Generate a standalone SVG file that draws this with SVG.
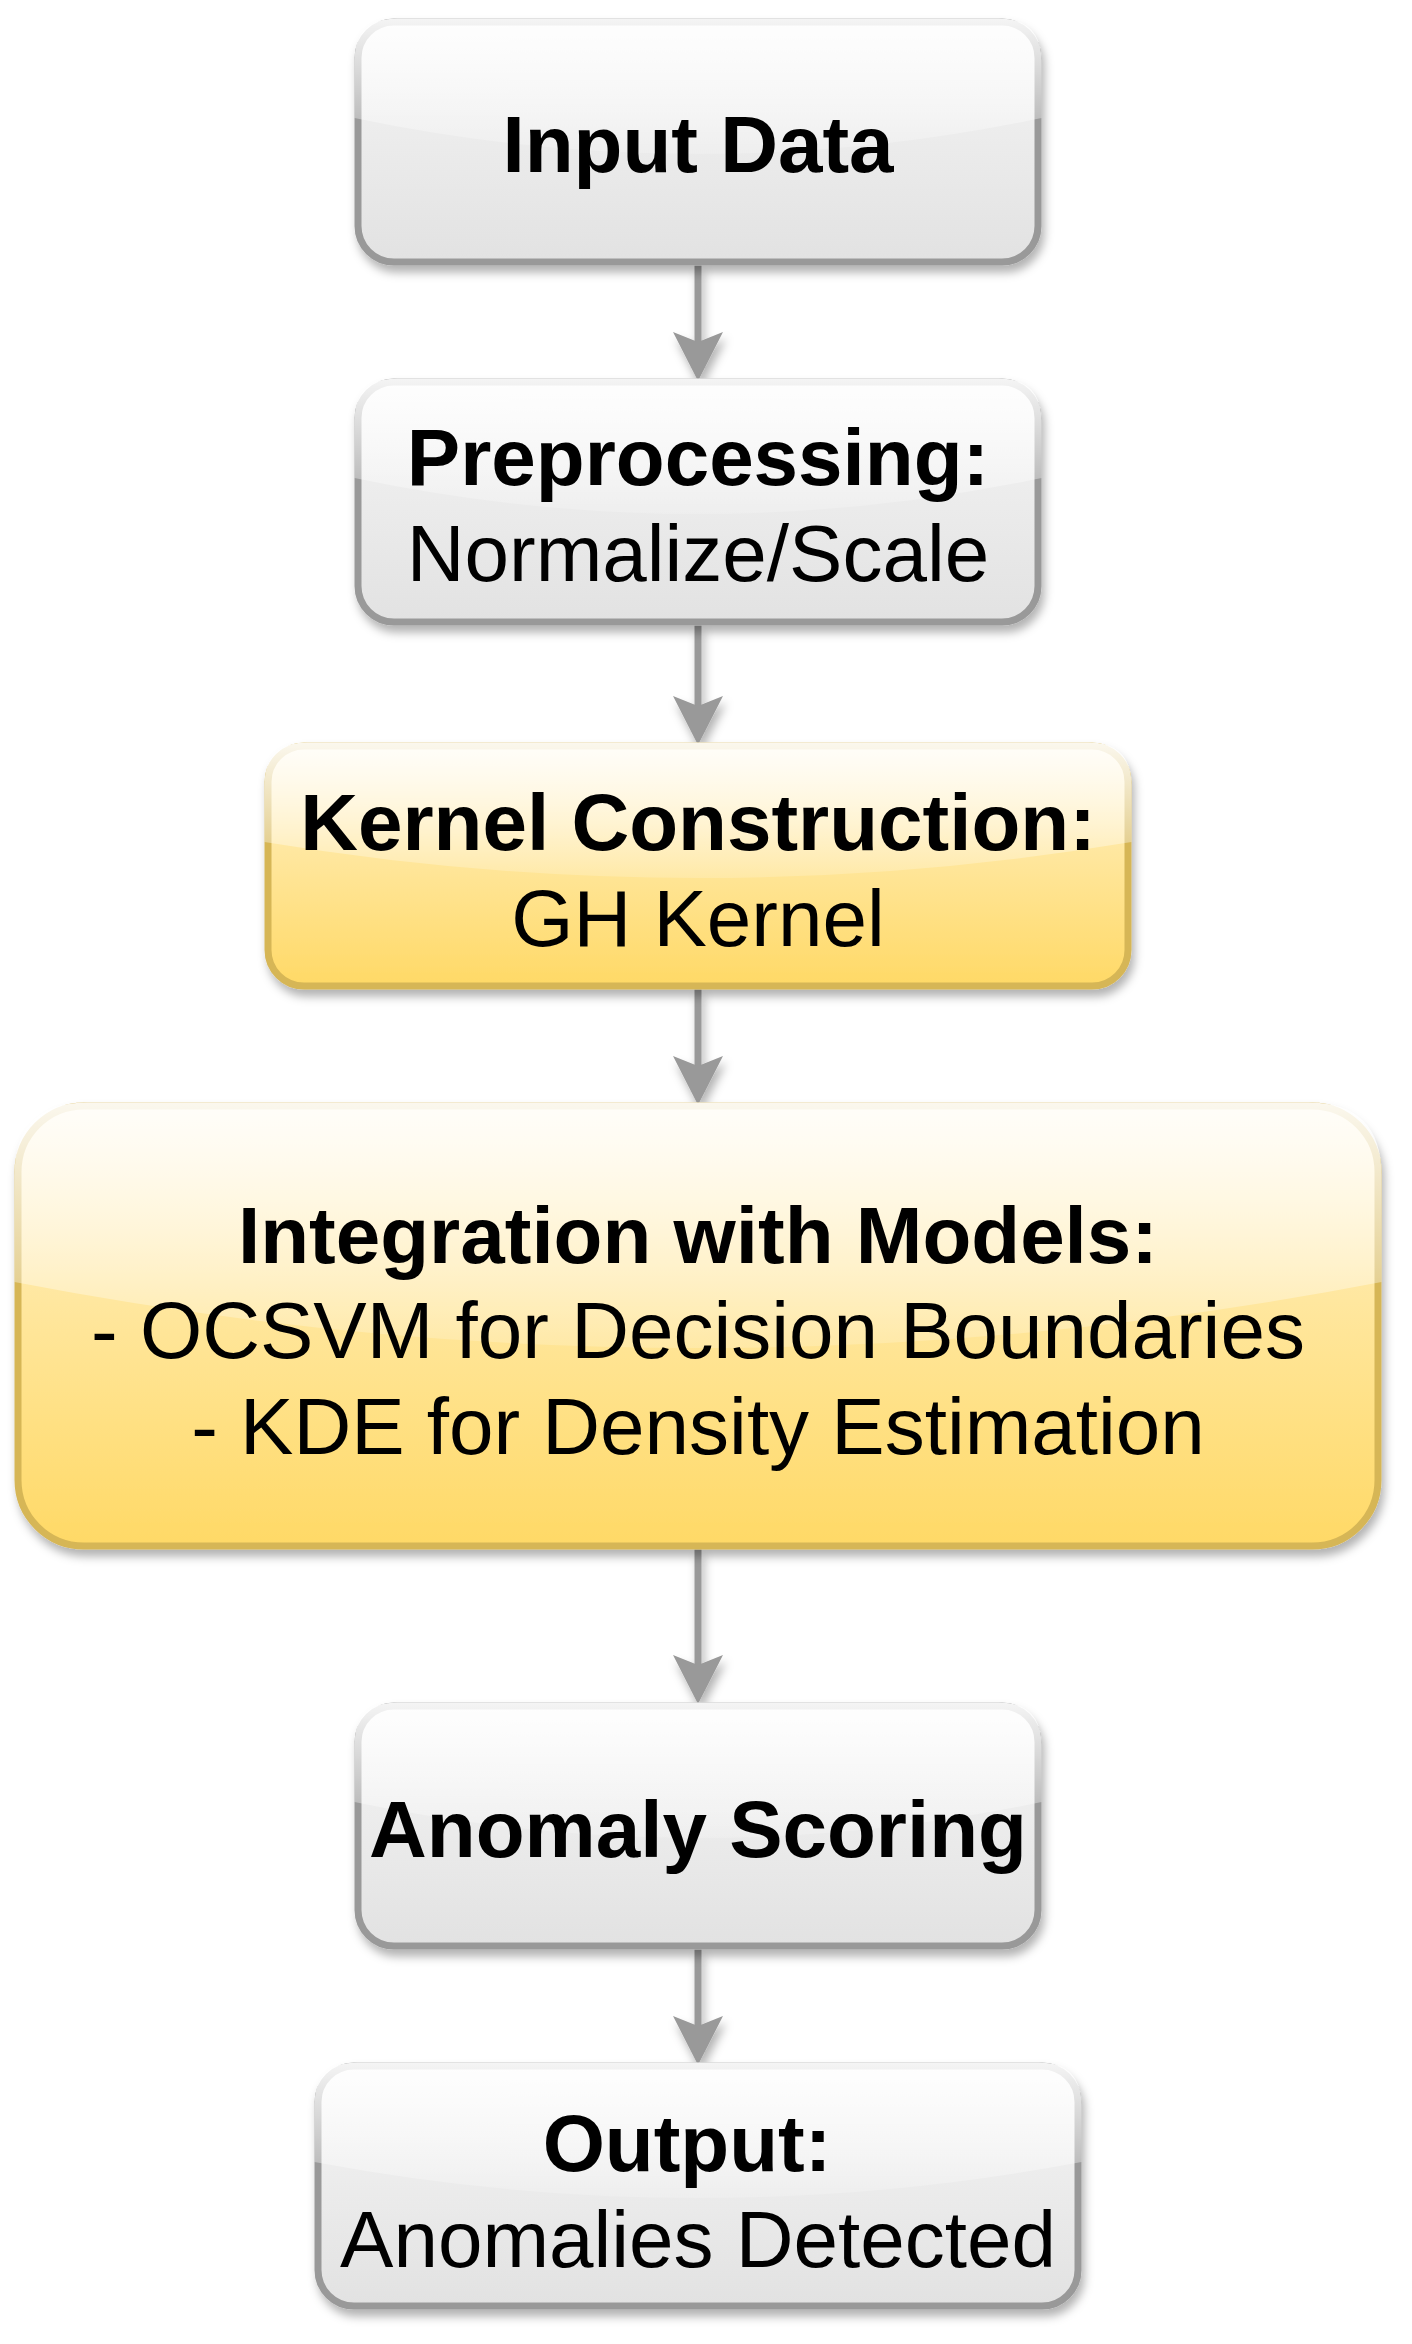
<svg xmlns="http://www.w3.org/2000/svg" width="1412" height="2344" viewBox="0 0 1412 2344">
<defs>
<style>
.gray{fill:url(#gGray);stroke:#999999;stroke-width:7}
.yel{fill:url(#gYel);stroke:#d6b656;stroke-width:7}
.glass{fill:url(#gGlass)}
.b{font-family:"Liberation Sans",Arial,sans-serif;font-size:80px;font-weight:bold;fill:#000;text-anchor:middle}
.r{font-family:"Liberation Sans",Arial,sans-serif;font-size:80px;font-weight:normal;fill:#000;text-anchor:middle}
.edge{stroke:#999999;stroke-width:7;fill:none;marker-end:url(#arr)}
</style>
<linearGradient id="gGray" x1="0" y1="0" x2="0" y2="1">
<stop offset="0" stop-color="#f5f5f5"/><stop offset="1" stop-color="#e2e2e2"/>
</linearGradient>
<linearGradient id="gYel" x1="0" y1="0" x2="0" y2="1">
<stop offset="0" stop-color="#fff2cc"/><stop offset="1" stop-color="#ffd966"/>
</linearGradient>
<linearGradient id="gGlass" x1="0" y1="0" x2="0" y2="1">
<stop offset="0" stop-color="#ffffff" stop-opacity="0.9"/><stop offset="1" stop-color="#ffffff" stop-opacity="0.17"/>
</linearGradient>
<filter id="sh" x="-10%" y="-10%" width="125%" height="130%">
<feDropShadow dx="3" dy="7" stdDeviation="5" flood-color="#000" flood-opacity="0.3"/>
</filter>
<filter id="shE" filterUnits="userSpaceOnUse" x="0" y="0" width="1412" height="2344">
<feDropShadow dx="3" dy="7" stdDeviation="5" flood-color="#000" flood-opacity="0.3"/>
</filter>
<marker id="arr" markerUnits="userSpaceOnUse" markerWidth="50" markerHeight="50" viewBox="0 0 50 50" refX="10" refY="25" orient="auto">
<path d="M0,0 L49,25 L0,50 L10,25 Z" fill="#999999"/>
</marker>
</defs>
<rect width="1412" height="2344" fill="#ffffff"/>

<g id="connectors" filter="url(#shE)">
<line class="edge" x1="698" y1="265.5" x2="698" y2="342"/>
<line class="edge" x1="698" y1="625.5" x2="698" y2="706"/>
<line class="edge" x1="698" y1="989.5" x2="698" y2="1066"/>
<line class="edge" x1="698" y1="1549.5" x2="698" y2="1665"/>
<line class="edge" x1="698" y1="1949.5" x2="698" y2="2026"/>
</g>

<g id="node-input">
<rect class="gray" x="358" y="22" width="680" height="240" rx="36" ry="36" filter="url(#sh)"/>
<path class="glass" d="M397.5,18.5 Q354.5,18.5 354.5,61.5 L354.5,118 Q698,190 1041.5,118 L1041.5,61.5 Q1041.5,18.5 998.5,18.5 Z"/>
<text class="b" x="698" y="172">Input Data</text>
</g>

<g id="node-preprocessing">
<rect class="gray" x="358" y="382" width="680" height="240" rx="36" ry="36" filter="url(#sh)"/>
<path class="glass" d="M397.5,378.5 Q354.5,378.5 354.5,421.5 L354.5,478 Q698,550 1041.5,478 L1041.5,421.5 Q1041.5,378.5 998.5,378.5 Z"/>
<text class="b" x="698" y="485">Preprocessing:</text>
<text class="r" x="698" y="581">Normalize/Scale</text>
</g>

<g id="node-kernel">
<rect class="yel" x="268" y="746" width="860" height="240" rx="36" ry="36" filter="url(#sh)"/>
<path class="glass" d="M307.5,742.5 Q264.5,742.5 264.5,785.5 L264.5,842 Q698,914 1131.5,842 L1131.5,785.5 Q1131.5,742.5 1088.5,742.5 Z"/>
<text class="b" x="698" y="850">Kernel Construction:</text>
<text class="r" x="698" y="946">GH Kernel</text>
</g>

<g id="node-integration">
<rect class="yel" x="18" y="1106" width="1360" height="440" rx="66" ry="66" filter="url(#sh)"/>
<path class="glass" d="M87.5,1102.5 Q14.5,1102.5 14.5,1175.5 L14.5,1282 Q698,1414 1381.5,1282 L1381.5,1175.5 Q1381.5,1102.5 1308.5,1102.5 Z"/>
<text class="b" x="698" y="1263">Integration with Models:</text>
<text class="r" x="698" y="1358">- OCSVM for Decision Boundaries</text>
<text class="r" x="698" y="1454">- KDE for Density Estimation</text>
</g>

<g id="node-scoring">
<rect class="gray" x="358" y="1706" width="680" height="240" rx="36" ry="36" filter="url(#sh)"/>
<path class="glass" d="M397.5,1702.5 Q354.5,1702.5 354.5,1745.5 L354.5,1802 Q698,1874 1041.5,1802 L1041.5,1745.5 Q1041.5,1702.5 998.5,1702.5 Z"/>
<text class="b" x="698" y="1857">Anomaly Scoring</text>
</g>

<g id="node-output">
<rect class="gray" x="318" y="2066" width="760" height="240" rx="36" ry="36" filter="url(#sh)"/>
<path class="glass" d="M357.5,2062.5 Q314.5,2062.5 314.5,2105.5 L314.5,2162 Q698,2234 1081.5,2162 L1081.5,2105.5 Q1081.5,2062.5 1038.5,2062.5 Z"/>
<text class="b" x="687" y="2171">Output:</text>
<text class="r" x="698" y="2267">Anomalies Detected</text>
</g>
</svg>
